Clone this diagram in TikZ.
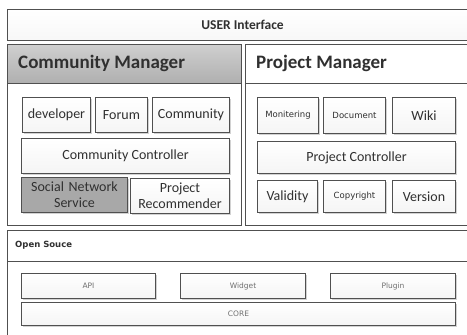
\documentclass[tikz,border=0pt]{standalone}
\usepackage{fontspec}
\setmainfont{Carlito}
\newfontfamily\smallfont{DejaVu Sans}
\usetikzlibrary{shadows}
\definecolor{edge}{HTML}{505050}
\definecolor{txt}{HTML}{303030}
\definecolor{ltxt}{HTML}{707070}
\definecolor{hdr}{HTML}{AFAFAF}
\definecolor{sns}{HTML}{A8A8A8}
\begin{document}
\begin{tikzpicture}[x=1pt,y=-1pt,
  frame/.style={draw=edge, line width=1.1pt, fill=white, anchor=north west, inner sep=0pt},
  box/.style={draw=edge, line width=1pt, top color=white, bottom color=gray!8, anchor=north west, inner sep=0pt, text=txt, align=center, font=\fontsize{14}{16}\selectfont,
    drop shadow={shadow xshift=1pt, shadow yshift=-1pt, fill=gray, opacity=0.35}},
  small/.style={box, font=\smallfont\fontsize{8.5}{9}\selectfont},
  osbox/.style={box, text=ltxt, font=\smallfont\fontsize{7.5}{8}\selectfont},
  title/.style={anchor=west, inner sep=0pt, text=txt, font=\bfseries\fontsize{19}{20}\selectfont}
]
\useasboundingbox (0,0) rectangle (467,335);
\clip (0,0) rectangle (467,335);
% USER Interface
\node[frame, minimum width=470pt, minimum height=31pt, top color=white, bottom color=gray!6, text=txt, font=\bfseries\fontsize{13.5}{14}\selectfont] (ui) at (7,9) {USER Interface};
% Community manager
\node[frame, minimum width=234pt, minimum height=181pt] (cm) at (7,44) {};
\node[frame, minimum width=234pt, minimum height=39pt, top color=hdr!60, bottom color=hdr] (cmh) at (7,44) {};
\node[title] (cmt) at (18,63) {Community Manager};
\node[box, minimum width=68pt, minimum height=35pt] (dev) at (22,97) {developer};
\node[box, minimum width=52pt, minimum height=35pt] (forum) at (95,97) {Forum};
\node[box, minimum width=77pt, minimum height=35pt] (comm) at (152,97) {Community};
\node[box, minimum width=208pt, minimum height=35pt] (cc) at (21,138) {Community Controller};
\node[box, minimum width=106pt, minimum height=35pt, top color=sns, bottom color=sns, text width=100pt] (sns) at (21,177) {Social Network\\Service};
\node[box, minimum width=99pt, minimum height=35pt, text width=95pt] (pr) at (130,178) {Project\\Recommender};
% Project manager
\node[frame, minimum width=230pt, minimum height=181pt] (pm) at (245,44) {};
\node[frame, minimum width=230pt, minimum height=39pt] (pmh) at (245,44) {};
\node[title] (pmt) at (256,63) {Project Manager};
\node[small, minimum width=61pt, minimum height=36pt] (mon) at (257,97) {Monitering};
\node[small, minimum width=62pt, minimum height=36pt] (doc) at (323,97) {Document};
\node[box, minimum width=63pt, minimum height=36pt] (wiki) at (392,97) {Wiki};
\node[box, minimum width=198pt, minimum height=32pt] (pc) at (257,141) {Project Controller};
\node[box, minimum width=60pt, minimum height=32pt] (val) at (257,180) {Validity};
\node[small, minimum width=62pt, minimum height=32pt] (copy) at (323,180) {Copyright};
\node[box, minimum width=63pt, minimum height=32pt] (ver) at (392,180) {Version};
% Open Source
\node[frame, minimum width=470pt, minimum height=120pt] (os) at (7,230) {};
\node[frame, minimum width=470pt, minimum height=31pt] (osh) at (7,230) {};
\node[anchor=west, inner sep=0pt, text=txt, font=\smallfont\bfseries\fontsize{8.5}{9}\selectfont] (ost) at (15,245) {Open Souce};
\node[osbox, minimum width=134pt, minimum height=25pt] (api) at (21,273) {API};
\node[osbox, minimum width=125pt, minimum height=25pt] (wid) at (180,273) {Widget};
\node[osbox, minimum width=125pt, minimum height=25pt] (plug) at (330,273) {Plugin};
\node[osbox, minimum width=434pt, minimum height=23pt] (core) at (21,302) {CORE};
\end{tikzpicture}
\end{document}
